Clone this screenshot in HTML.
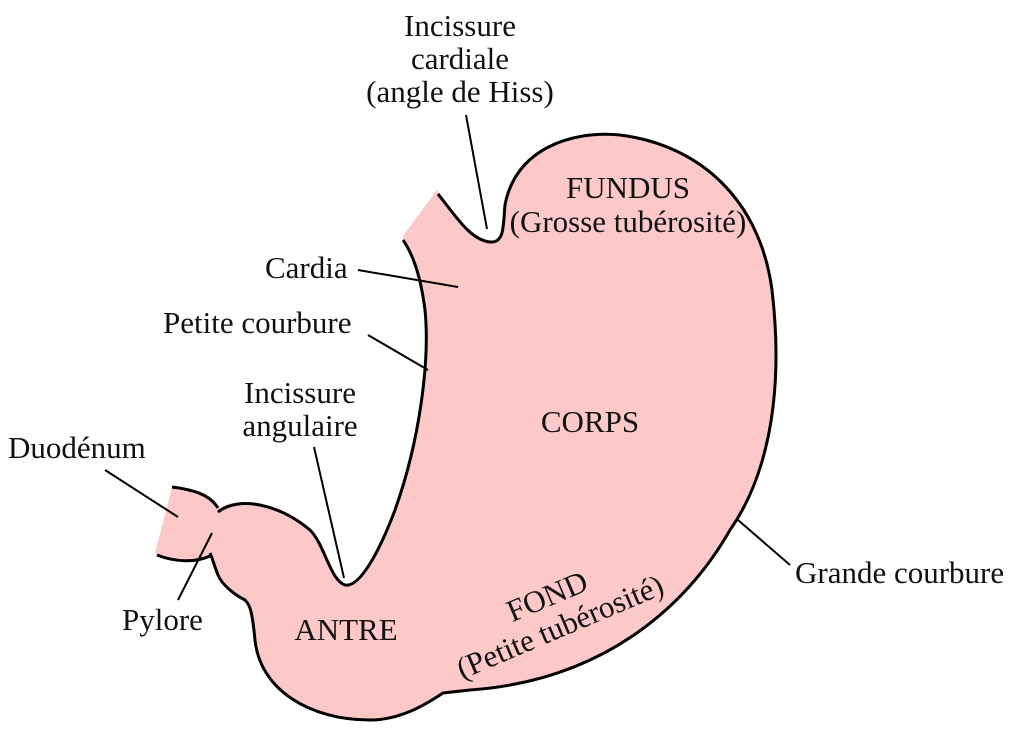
<!DOCTYPE html>
<html><head><meta charset="utf-8"><style>
html,body{margin:0;padding:0;background:#fff;}
svg{display:block}
text{font-family:"Liberation Serif",serif;font-size:31px;fill:#111;}
</style></head><body>
<svg width="1024" height="742" viewBox="0 0 1024 742">
<path fill="#fcc8c8" stroke="none" d="M403,236 L437,190 C455,215 470,240 490,242 C505,243 503,225 505,205 C515,150 570,130 620,135 C700,145 760,200 772,290 C785,400 765,480 730,530 C690,600 610,680 470,690 L443,693 C425,705 400,720 370,720 C310,720 260,690 255,640 C252,610 250,605 245,600 C235,595 222,585 218,575 C214,565 212,557 210,555 L200,560 C185,562 170,558 155,553 L172,487 C195,490 210,495 218,508 C240,495 280,505 310,530 C325,545 330,580 345,585 C360,588 380,550 395,510 C420,440 430,360 425,310 C420,270 410,250 403,240 Z"/>
<g fill="none" stroke="#000" stroke-width="3" stroke-linejoin="round">
<path d="M438,194 C455,215 470,240 490,242 C505,243 503,225 505,205 C515,150 570,130 620,135 C700,145 760,200 772,290 C785,400 765,480 730,530 C690,600 610,680 470,690 L443,693 C425,705 400,720 370,720 C310,720 260,690 255,640 C252,610 250,605 245,600 C235,595 222,585 218,575 C214,565 212,557 210,553"/>
<path d="M218,512 C240,495 280,505 310,530 C325,545 330,580 345,585 C360,588 380,550 395,510 C420,440 430,360 425,310 C420,270 410,250 403,240"/>
<path d="M172,487 C195,490 210,495 218,508"/>
<path d="M157,555 C175,562 195,563 210,556"/>
</g>
<g stroke="#000" stroke-width="2">
<line x1="466" y1="115" x2="487" y2="229"/>
<line x1="358" y1="270" x2="458" y2="287"/>
<line x1="368" y1="335" x2="428" y2="370"/>
<line x1="314" y1="447" x2="344" y2="578"/>
<line x1="105" y1="470" x2="178" y2="517"/>
<line x1="178" y1="600" x2="212" y2="533"/>
<line x1="738" y1="520" x2="790" y2="565"/>
</g>
<text x="460" y="36" text-anchor="middle">Incissure</text>
<text x="460" y="69" text-anchor="middle">cardiale</text>
<text x="460" y="102" text-anchor="middle">(angle de Hiss)</text>
<text x="628" y="198" text-anchor="middle">FUNDUS</text>
<text x="628" y="232" text-anchor="middle">(Grosse tubérosité)</text>
<text x="265" y="278">Cardia</text>
<text x="163" y="333">Petite courbure</text>
<text x="300" y="403" text-anchor="middle">Incissure</text>
<text x="300" y="436" text-anchor="middle">angulaire</text>
<text x="8" y="458">Duodénum</text>
<text x="590" y="432" text-anchor="middle">CORPS</text>
<text x="122" y="630">Pylore</text>
<text x="346" y="640" text-anchor="middle">ANTRE</text>
<text x="795" y="583">Grande courbure</text>
<g transform="rotate(-23 555 615)">
<text x="555" y="605" text-anchor="middle">FOND</text>
<text x="555" y="638" text-anchor="middle">(Petite tubérosité)</text>
</g>
</svg>
</body></html>
